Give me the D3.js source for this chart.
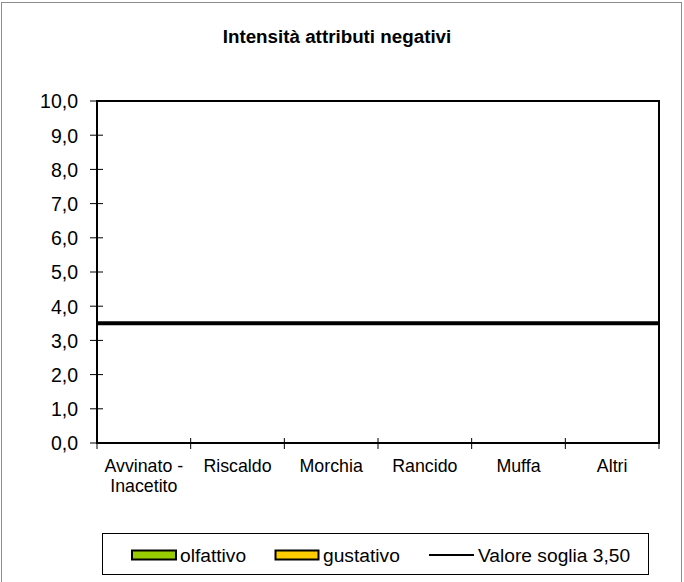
<!DOCTYPE html>
<html>
<head>
<meta charset="utf-8">
<script src="https://cdn.jsdelivr.net/npm/d3@7"></script>
<style>
  html, body { margin: 0; padding: 0; background: #fff; }
  svg { display: block; font-family: "Liberation Sans", Arial, sans-serif; }
</style>
</head>
<body>
<svg id="chart" width="684" height="582"></svg>
<script>
// ---- data ----
const categories = [["Avvinato -", "Inacetito"], ["Riscaldo"], ["Morchia"], ["Rancido"], ["Muffa"], ["Altri"]];
const olfattivo = [0, 0, 0, 0, 0, 0];
const gustativo = [0, 0, 0, 0, 0, 0];
const soglia = 3.5;
const yTicks = [0, 1, 2, 3, 4, 5, 6, 7, 8, 9, 10];
const title = "Intensità attributi negativi";
const legendLabels = ["olfattivo", "gustativo", "Valore soglia 3,50"];
const colors = { olfattivo: "#99cc00", gustativo: "#ffcc00" };

// ---- layout ----
const svg = d3.select("#chart");
const L = 97, R = 659, T = 101, B = 443;
const fsX = 17.8, fsY = 19.5, fsL = 19.2;

// outer frame
svg.append("rect").attr("x", 1.5).attr("y", 2.5).attr("width", 680).attr("height", 600)
  .attr("fill", "#fff").attr("stroke", "#8c8c8c").attr("stroke-width", 1);

// title
svg.append("text").attr("x", 337).attr("y", 43).attr("text-anchor", "middle")
  .attr("font-weight", "bold").attr("font-size", 18.8).attr("fill", "#000").text(title);

const x = d3.scaleBand().domain(d3.range(categories.length)).range([L, R]).paddingInner(0).paddingOuter(0);
const y = d3.scaleLinear().domain([0, 10]).range([B, T]);
const locale = d3.formatLocale({ decimal: ",", thousands: ".", grouping: [3], currency: ["", "€"] });
const fmt = locale.format(".1f");

// bars (all zero)
const bw = x.bandwidth() * 0.3;
const g = svg.append("g");
categories.forEach((c, i) => {
  [[olfattivo[i], colors.olfattivo, -1], [gustativo[i], colors.gustativo, 0]].forEach(([v, col, off]) => {
    const h = y(0) - y(v);
    if (h > 0) {
      g.append("rect").attr("x", x(i) + x.bandwidth() / 2 + off * bw).attr("y", y(v))
        .attr("width", bw).attr("height", h).attr("fill", col).attr("stroke", "#000").attr("stroke-width", 1);
    }
  });
});

// y ticks (cross)
const yt = svg.append("g");
yTicks.forEach(t => {
  yt.append("line").attr("x1", L - 7).attr("x2", L + 6).attr("y1", y(t)).attr("y2", y(t))
    .attr("stroke", "#000").attr("stroke-width", 1);
  yt.append("text").attr("x", 78).attr("y", y(t) + 7.3).attr("text-anchor", "end")
    .attr("font-size", fsY).attr("fill", "#000").text(fmt(t));
});

// x ticks at category boundaries
const xt = svg.append("g");
d3.range(categories.length + 1).forEach(i => {
  const xx = i < categories.length ? x(i) : R;
  xt.append("line").attr("x1", xx).attr("x2", xx).attr("y1", B - 5).attr("y2", B + 6)
    .attr("stroke", "#000").attr("stroke-width", 1);
});
categories.forEach((c, i) => {
  const t = xt.append("text").attr("text-anchor", "middle").attr("font-size", fsX).attr("fill", "#000");
  c.forEach((line, j) => {
    t.append("tspan").attr("x", x(i) + x.bandwidth() / 2).attr("y", 472 + j * 19.5).text(line);
  });
});

// plot frame
svg.append("rect").attr("x", L).attr("y", T).attr("width", R - L).attr("height", B - T)
  .attr("fill", "none").attr("stroke", "#000").attr("stroke-width", 2);

// threshold line
svg.append("line").attr("x1", L).attr("x2", R).attr("y1", y(soglia)).attr("y2", y(soglia))
  .attr("stroke", "#000").attr("stroke-width", 4);

// legend
const lg = svg.append("g");
lg.append("rect").attr("x", 102.5).attr("y", 533.5).attr("width", 546).attr("height", 41)
  .attr("fill", "#fff").attr("stroke", "#000").attr("stroke-width", 1);
const ly = 555;
lg.append("rect").attr("x", 132).attr("y", ly - 4.5).attr("width", 44).attr("height", 9)
  .attr("fill", colors.olfattivo).attr("stroke", "#000").attr("stroke-width", 2);
lg.append("text").attr("x", 180).attr("y", ly + 7).attr("font-size", fsL).text(legendLabels[0]);
lg.append("rect").attr("x", 275.5).attr("y", ly - 4.5).attr("width", 43).attr("height", 9)
  .attr("fill", colors.gustativo).attr("stroke", "#000").attr("stroke-width", 2);
lg.append("text").attr("x", 323).attr("y", ly + 7).attr("font-size", fsL).text(legendLabels[1]);
lg.append("line").attr("x1", 429).attr("x2", 474).attr("y1", ly).attr("y2", ly)
  .attr("stroke", "#000").attr("stroke-width", 2);
lg.append("text").attr("x", 478).attr("y", ly + 7).attr("font-size", fsL).text(legendLabels[2]);
</script>
</body>
</html>
